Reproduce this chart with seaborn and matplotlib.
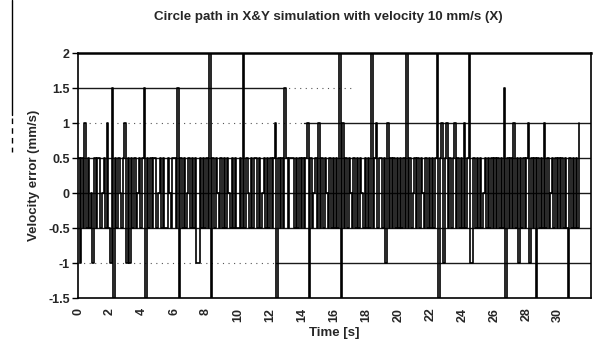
import numpy as np
import pandas as pd
import matplotlib
matplotlib.use("Agg")
import matplotlib.pyplot as plt
from matplotlib.lines import Line2D
import seaborn as sns

# ---------------- data (velocity error, mm/s), one row per 2 s ----------------
sample_interval_s = 0.1
err_00 = [0.5, -1, 0.5, -0.5, 1, -0.5, 0.5, -0.5, 0, -1, 0.5, -0.5, 0.5, 0.5, -0.5, 0, 0.5, -0.5, 1, -0.5]
err_02 = [-1, 1.5, -1.5, 0.5, -0.5, 0.5, 0, -0.5, 0.5, 1, -1, 0.5, -1, 0.5, -0.5, 0.5, -0.5, 0, 0.5, -0.5]
err_04 = [0.5, 1.5, -1.5, 0.5, -0.5, 0.5, -0.5, 0.5, 0.5, -0.5, 0, 0.5, -0.5, 0.5, -0.5, -0.5, 0.5, 0, -0.5, 0.5]
err_06 = [0.5, -0.5, 1.5, -1.5, 0.5, -0.5, 0.5, -0.5, 0, 0.5, -0.5, 0.5, -0.5, 0.5, -1, -1, 0.5, -0.5, 0.5, -0.5]
err_08 = [0.5, -0.5, 2, -1.5, 0.5, -0.5, 0.5, 0, -0.5, 0.5, -0.5, 0.5, -0.5, 0.5, 0, -0.5, 0.5, -0.5, 0.5, -0.5]
err_10 = [-0.5, 0.5, -0.5, 2, -0.5, 0.5, 0, -0.5, 0.5, -0.5, 0.5, 0.5, -0.5, 0.5, -0.5, 0, 0.5, -0.5, 0.5, -0.5]
err_12 = [0.5, -0.5, 0.5, 1, -1.5, 0.5, -0.5, 0.5, -0.5, 1.5, 0.5, -0.5, 0.5, 0.5, 0.5, -0.5, 0.5, -0.5, 0.5, -0.5]
err_14 = [0.5, -0.5, 0.5, 1, -1.5, 0.5, -0.5, 0, 0.5, -0.5, 1, -0.5, 0.5, -0.5, 0.5, 0, -0.5, 0.5, -0.5, 0.5]
err_16 = [-0.5, 0.5, -0.5, 2, -1.5, 1, -0.5, 0.5, -0.5, 0.5, 0, -0.5, 0.5, -0.5, 0.5, -0.5, 0.5, 0, -0.5, 0.5]
err_18 = [-0.5, 0.5, -0.5, 2, -0.5, 0.5, 1, -0.5, 0.5, 0.5, -0.5, 0.5, -1, 1, -0.5, 0.5, -0.5, 0.5, -0.5, 0.5]
err_20 = [-0.5, 0.5, -0.5, 0.5, -0.5, 2, -0.5, 0.5, -0.5, 0, 0.5, -0.5, 0.5, -0.5, 0.5, 0, -0.5, 0.5, -0.5, 0.5]
err_22 = [-0.5, 0.5, -0.5, 0.5, 2, -1.5, 0.5, 1, -1, 0.5, 1, -0.5, 0.5, -0.5, 0.5, 1, -0.5, 0.5, -0.5, 0.5]
err_24 = [-0.5, 1, -0.5, 0.5, 2, -1, -1, 0.5, -0.5, 0.5, -0.5, 0.5, -0.5, 0, 0.5, -0.5, 0.5, -0.5, 0.5, -0.5]
err_26 = [0.5, -0.5, 0.5, -0.5, 0.5, -0.5, 1.5, -1.5, 0.5, -0.5, 0.5, -0.5, 1, -0.5, 0.5, -1, 0.5, -0.5, 0.5, -0.5]
err_28 = [0.5, 1, -1, 0.5, -0.5, 0.5, -1.5, 0.5, -0.5, 0.5, -0.5, 1, -0.5, 0.5, -0.5, 0, 0.5, -0.5, 0.5, -0.5]
err_30 = [0.5, -0.5, 0.5, -0.5, 0.5, -0.5, -1.5, 0.5, -0.5, 0.5, -0.5, 0.5, -0.5, 1]

y_ticks = [-1.5, -1, -0.5, 0, 0.5, 1, 1.5, 2]
y_tick_labels = ["-1.5", "-1", "-0.5", "0", "0.5", "1", "1.5", "2"]
x_ticks = list(range(0, 31, 2))
x_tick_labels = [str(v) for v in x_ticks]

title = "Circle path in X&Y simulation with velocity 10 mm/s (X)"
x_label = "Time [s]"
y_label = "Velocity error (mm/s)"

# ---------------- build frame ----------------
velocity_error = np.concatenate([err_00, err_02, err_04, err_06, err_08, err_10, err_12, err_14,
                                 err_16, err_18, err_20, err_22, err_24, err_26, err_28, err_30])
time_s = np.arange(len(velocity_error)) * sample_interval_s
df = pd.DataFrame({"time": time_s, "error": velocity_error})

sns.set_theme(style="white")
plt.rcParams["font.family"] = ["Liberation Sans", "DejaVu Sans"]
plt.rcParams["font.weight"] = "bold"

fig = plt.figure(figsize=(6.03, 3.47), dpi=100)
fig.patch.set_facecolor("white")
ax = fig.add_axes([0.1294, 0.1412, 0.8507, 0.706])
ax.set_facecolor("white")

# gridlines (as they survive in the reference)
grid_kw = dict(color="#1a1a1a", lw=1.0, zorder=1)
dot_kw = dict(color="#555555", lw=0.8, ls=(0, (1, 4)), zorder=1)
ax.axhline(1.5, xmin=0.0, xmax=0.40, **grid_kw)
ax.axhline(1.5, xmin=0.40, xmax=0.54, **dot_kw)
ax.axhline(1.0, xmin=0.44, xmax=1.0, **grid_kw)
ax.axhline(1.0, xmin=0.0, xmax=0.44, **dot_kw)
for lvl in (0.5, 0.0, -0.5):
    ax.axhline(lvl, xmin=0.0, xmax=1.0, **grid_kw)
ax.axhline(-1.0, xmin=0.385, xmax=1.0, **grid_kw)
ax.axhline(-1.0, xmin=0.0, xmax=0.385, **dot_kw)

sns.lineplot(data=df, x="time", y="error", ax=ax, color="black", lw=1.2,
             estimator=None, sort=False, drawstyle="steps-post", zorder=3)

ax.set_xlim(0, 32.05)
ax.set_ylim(-1.5, 2)
ax.set_yticks(y_ticks)
ax.set_yticklabels(y_tick_labels, fontsize=9, fontweight="bold")
ax.set_xticks(x_ticks)
ax.set_xticklabels(x_tick_labels, rotation=90, fontsize=9, fontweight="bold")
ax.tick_params(axis="y", length=4, width=1, color="black", pad=2, direction="out", left=True)
ax.tick_params(axis="x", length=0, pad=7)

for name, sp in ax.spines.items():
    sp.set_visible(True)
    sp.set_color("black")
    sp.set_linewidth(1.2)
ax.spines["top"].set_linewidth(1.8)

ax.set_xlabel(x_label, fontsize=9.5, fontweight="bold", labelpad=4)
ax.set_ylabel(y_label, fontsize=9.5, fontweight="bold", labelpad=6)
fig.text(0.545, 0.95, title, ha="center", va="center", fontsize=9.6, fontweight="bold")

# scanned page edge on the left
fig.add_artist(Line2D([12/603, 12/603], [1.0, 1 - 115/347], transform=fig.transFigure,
                      color="black", lw=1.0))
fig.add_artist(Line2D([12/603, 12/603], [1 - 118/347, 1 - 152/347], transform=fig.transFigure,
                      color="black", lw=1.0, ls=(0, (4, 3))))

fig.savefig("out.png", dpi=100, facecolor="white")
